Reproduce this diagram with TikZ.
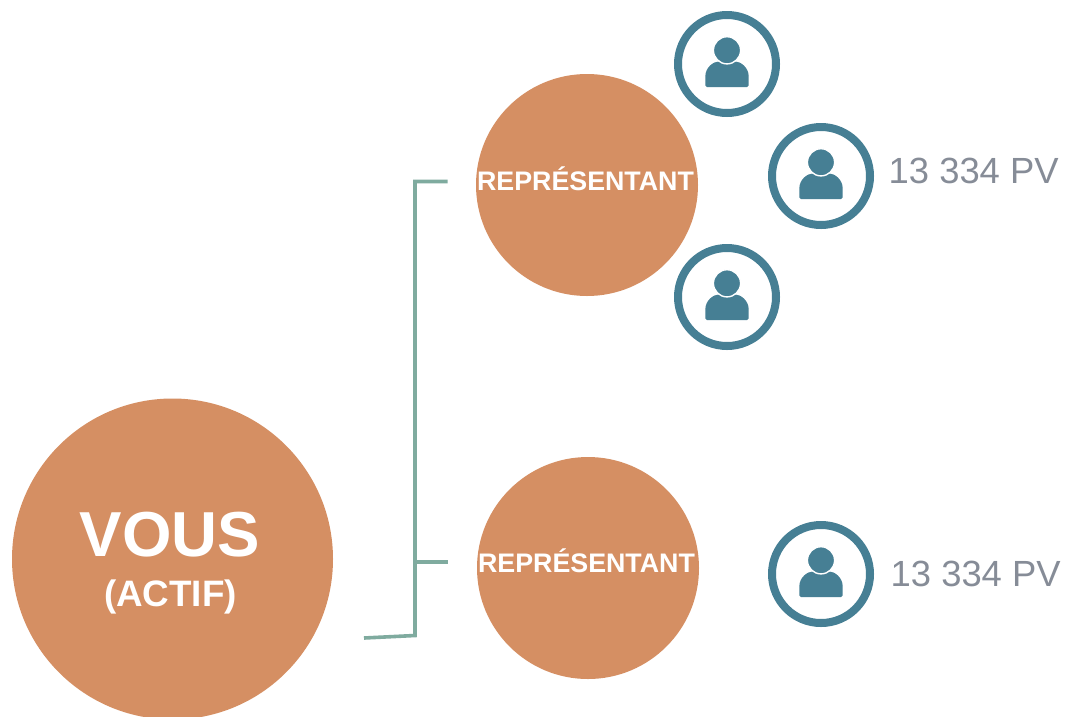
\documentclass[tikz,border=0pt]{standalone}
\usepackage{fontspec}
\setmainfont{Liberation Sans}
\definecolor{orangec}{HTML}{D58F63}
\definecolor{tealc}{HTML}{467F94}
\definecolor{greenc}{HTML}{7FAB9F}
\definecolor{greyc}{HTML}{868C97}
\tikzset{
  bigdisc/.style={circle,fill=orangec,draw=none,inner sep=0pt,minimum size=321pt},
  repdisc/.style={circle,fill=orangec,draw=none,inner sep=0pt,minimum size=222pt},
  reptext/.style={text=white,inner sep=0pt,font=\fontsize{26.8}{30}\bfseries\selectfont},
  ring/.style={circle,draw=tealc,fill=white,line width=8pt,inner sep=0pt,minimum size=98pt},
  pvlabel/.style={text=greyc,anchor=west,inner sep=0pt,font=\fontsize{36.4}{40}\selectfont},
  link/.style={draw=greenc,line width=3.6pt},
  person/.pic={
    \fill[tealc,rounded corners=1.5pt] (-21.7,23) -- (-21.7,14)
      .. controls (-21.7,3) and (-13,-2.5) .. (-7,-2.5) -- (7,-2.5)
      .. controls (13,-2.5) and (21.7,3) .. (21.7,14) -- (21.7,23) -- cycle;
    \fill[tealc,draw=white,line width=1.4pt] (0,-13.7) circle (13.6);
  }
}
\begin{document}
\begin{tikzpicture}[x=1pt,y=-1pt]
\useasboundingbox (0,0) rectangle (1071,716);
\clip (0,0) rectangle (1071,716);
\node[bigdisc] (vous) at (172.5,559) {};
\node[text=white,inner sep=0pt,font=\fontsize{63.6}{66}\bfseries\selectfont] (voust) at (170,535) {VOUS};
\node[text=white,inner sep=0pt,font=\fontsize{36.8}{40}\bfseries\selectfont] (actif) at (170.5,597) {(ACTIF)};
\node[repdisc] (rep1) at (587,185) {};
\node[repdisc] (rep2) at (588,568) {};
\node[reptext] (rep1t) at (585.5,179) {REPRÉSENTANT};
\node[reptext] (rep2t) at (586.5,561) {REPRÉSENTANT};
\node[ring] (p1) at (727,64) {};
\node[ring] (p2) at (821,176) {};
\node[ring] (p3) at (727,297) {};
\node[ring] (p4) at (821,574) {};
\foreach \n in {p1,p2,p3,p4} \pic at (\n) {person};
\node[pvlabel] (pv1) at (888.5,171) {13 334 PV};
\node[pvlabel] (pv2) at (890.5,574) {13 334 PV};
\coordinate (start) at (364,638);
\coordinate (corner) at (415,635.5);
\coordinate (top) at (415,181.5);
\coordinate (mid) at (415,562);
\coordinate (end1) at (447.5,181.5);
\coordinate (end2) at (447.5,562);
\draw[link,line join=miter] (start) -- (corner) -- (top) -- (end1);
\draw[link] (mid) -- (end2);
\end{tikzpicture}
\end{document}
